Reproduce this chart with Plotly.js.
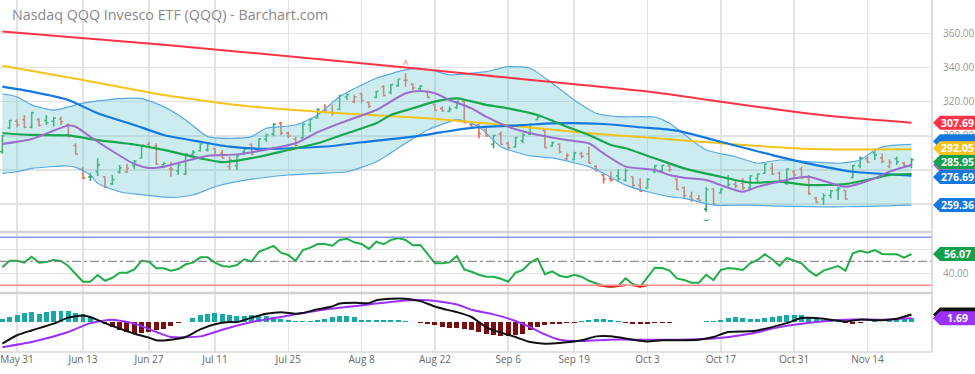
<!DOCTYPE html>
<html><head><meta charset="utf-8">
<script src="https://cdn.plot.ly/plotly-3.0.1.min.js"></script>
<style>html,body{margin:0;padding:0;background:#fff;}#chart{width:975px;height:374px;}</style>
</head><body><div id="chart"></div>
<script>
// ---------- categories (trading days) ----------
const firstDay = '2022-05-26', lastDay = '2022-11-22';
const holidays = ['2022-05-30','2022-06-20','2022-07-04','2022-09-05'];
const dates = [];
for (let d = new Date(firstDay + 'T00:00:00Z'); d <= new Date(lastDay + 'T00:00:00Z'); d.setUTCDate(d.getUTCDate() + 1)) {
  const wd = d.getUTCDay(), s = d.toISOString().slice(0, 10);
  if (wd !== 0 && wd !== 6 && holidays.indexOf(s) < 0) dates.push(s);
}
const tickDates = ['2022-05-31','2022-06-13','2022-06-27','2022-07-11','2022-07-25','2022-08-08','2022-08-22','2022-09-06','2022-09-19','2022-10-03','2022-10-17','2022-10-31','2022-11-14'];
const tickLabels = ['May 31','Jun 13','Jun 27','Jul 11','Jul 25','Aug 8','Aug 22','Sep 6','Sep 19','Oct 3','Oct 17','Oct 31','Nov 14'];
const priceTicks = [260, 280, 300, 320, 340, 360];
const priceTickText = ['', '', '300.00', '320.00', '340.00', '360.00'];   // 260 / 280 sit under the value badges
const rsiTicks = [40, 60];
const rsiTickText = ['40.00', ''];                                         // 60 sits under the RSI badge

// ---------- OHLC ----------
const openP = [290.7,304.6,308.5,309.5,305.0,309.5,309.0,308.5,309.8,306.5,
294.3,280.5,276.0,279.0,276.0,271.8,278.8,278.8,282.5,287.0,
295.0,294.0,283.0,280.5,279.5,277.5,289.0,291.2,291.8,292.5,
289.8,282.0,282.5,290.5,294.8,291.5,298.0,301.0,307.3,301.7,
298.0,298.8,306.5,310.5,314.6,313.8,315.6,322.7,320.0,324.6,
319.6,322.6,328.6,325.4,329.4,332.6,330.3,327.6,325.7,318.3,
315.9,314.3,316.5,320.2,306.5,306.5,303.7,295.0,301.0,295.5,
293.5,297.0,301.0,309.5,303.0,294.0,295.0,286.5,286.0,289.5,
289.5,282.0,277.0,275.0,276.5,274.0,276.0,271.0,269.5,279.0,
279.5,282.5,274.5,269.5,264.5,263.0,257.0,268.8,266.5,275.0,
271.5,272.0,269.5,275.0,278.0,281.0,278.0,272.0,279.0,280.5,
275.5,263.5,263.0,265.0,268.0,268.0,275.5,282.5,286.5,290.0,
287.0,282.0,286.5,284.0,282.5];
const highP = [300.5,309.3,309.7,312.2,314.1,310.3,312.2,311.2,311.2,307.3,
295.6,281.5,278.4,286.8,276.2,277.0,282.9,283.4,285.8,294.6,
296.5,295.6,284.5,284.8,283.9,289.7,291.5,295.6,296.1,292.7,
291.7,287.8,288.7,292.7,295.6,298.5,301.3,307.3,308.3,302.4,
299.5,307.3,310.3,316.1,318.5,318.3,324.0,324.6,324.0,325.3,
320.0,326.3,329.8,330.2,333.3,336.7,330.8,329.8,326.3,318.5,
317.1,317.1,320.4,321.0,308.3,307.3,304.4,300.6,302.4,296.5,
299.5,301.5,307.3,311.6,303.4,296.5,295.6,289.7,290.7,290.7,
293.6,282.9,278.0,279.0,280.4,281.0,276.0,275.1,275.1,282.9,
282.9,283.9,275.1,270.2,267.2,265.3,269.8,269.2,269.2,277.0,
274.1,275.1,277.0,278.0,283.9,284.0,279.0,280.9,279.9,281.9,
277.0,264.3,266.3,268.2,270.2,268.2,282.9,287.8,287.8,292.5,
289.7,286.3,287.8,284.8,286.8];
const lowP = [289.5,304.0,305.0,304.4,304.4,305.4,306.3,305.5,306.3,299.1,
288.7,274.5,273.5,276.5,269.3,271.1,277.8,278.2,280.5,286.8,
292.7,282.9,281.0,276.0,277.0,277.0,287.8,290.7,290.7,287.8,
286.8,280.0,280.0,288.7,288.7,290.7,296.5,299.8,300.5,298.5,
293.6,298.5,302.4,310.0,313.2,311.8,315.1,321.0,319.1,319.1,
316.1,322.0,323.0,324.4,328.8,328.8,326.9,326.9,322.0,314.5,
314.1,313.8,315.7,307.3,304.4,298.5,299.5,292.7,294.6,291.7,
293.2,295.6,300.5,309.0,292.7,293.6,289.7,285.8,285.8,286.8,
283.9,278.9,272.1,273.1,273.1,273.1,269.2,267.2,268.9,278.0,
278.9,278.9,268.2,263.3,261.3,261.9,255.5,259.4,266.0,269.2,
269.2,268.2,268.8,273.1,277.8,277.0,273.1,271.1,276.0,275.1,
265.3,260.4,259.4,263.3,262.3,262.3,275.1,281.0,283.9,285.8,
283.9,281.0,282.9,281.9,281.0];
const closeP = [300.0,309.0,306.5,305.0,313.6,306.0,307.6,310.3,308.2,299.6,
289.3,275.2,275.9,282.8,270.0,274.2,281.3,281.0,285.0,294.4,
293.3,283.5,283.9,280.3,282.9,289.3,290.4,295.2,295.4,288.6,
286.9,285.8,288.3,292.4,289.3,298.3,300.6,306.8,301.5,299.8,
294.3,306.9,309.9,315.4,315.0,313.3,323.6,324.2,322.8,320.7,
317.3,326.0,323.6,330.0,333.1,332.5,328.0,329.2,322.5,314.9,
314.5,315.6,320.2,307.6,304.8,301.3,299.9,300.2,295.0,293.0,
299.0,300.5,306.5,311.0,293.0,296.0,290.5,288.5,290.0,288.0,
284.0,280.0,274.5,274.2,274.8,279.5,271.0,267.5,274.5,282.5,
282.7,280.0,268.5,265.0,262.5,262.0,268.5,260.0,268.7,271.5,
270.5,269.5,276.5,277.5,283.5,277.5,274.0,280.5,277.0,275.5,
266.0,261.0,265.0,267.8,269.0,263.0,282.5,287.0,284.5,288.7,
285.0,284.5,284.8,282.5,285.95];

// ---------- moving averages / bands (read at sampled bars) ----------
const ma200Idx = [0,22,44,66,88,98,108,114,124];
const ma200 = [361.2,353.3,344.6,335.3,326.0,320.0,314.1,311.2,307.69];
const ma100Idx = [0,11,22,34,45,58,66,73,80,88,98,108,114,124];
const ma100 = [341.1,332.7,323.9,317.1,313.5,310.3,307.3,304.4,301.5,299.0,295.6,292.7,292.0,292.05];
const ma50Idx = [0,4,9,13,18,22,27,31,36,41,45,49,56,60,64,71,75,82,87,92,98,105,112,116,124];
const ma50 = [328.8,325.9,321.0,313.2,306.3,300.5,296.5,293.6,292.3,293.0,294.0,296.2,299.5,302.1,304.6,306.3,307.3,306.9,305.0,303.0,296.5,288.7,281.9,278.9,276.69];
const ma20Idx = [0,4,9,13,18,22,27,30,35,39,43,47,51,53,56,59,62,66,69,73,77,80,83,85,89,93,98,102,106,110,115,119,121,124];
const ma20 = [301.5,300.5,300.2,297.5,294.9,291.7,286.8,284.6,287.7,291.7,295.6,301.5,307.3,312.2,316.1,320.0,321.9,318.1,316.1,312.2,305.3,300.5,294.6,292.7,286.8,280.9,276.0,272.5,273.1,271.1,271.7,275.1,277.0,277.6];
const ma9Idx = [0,4,9,10,13,18,20,22,28,32,37,40,43,46,51,55,57,59,61,64,66,69,72,77,80,82,85,89,91,93,96,98,101,103,106,108,110,115,119,121,124];
const ma9 = [295.2,298.1,306.0,305.3,296.5,283.5,281.1,281.9,288.3,289.1,292.7,295.6,302.1,307.3,315.1,324.9,326.3,324.9,321.0,316.1,311.2,305.3,301.5,297.5,295.6,289.7,281.9,280.0,277.0,275.4,274.1,271.1,267.2,270.1,273.1,275.1,276.0,270.1,275.1,279.0,282.9];
const bbUpIdx = [0,2,4,7,11,15,19,22,25,28,31,34,36,40,43,46,51,55,57,59,61,64,66,69,72,75,78,81,84,89,91,94,96,100,103,106,110,114,117,119,121,124];
const bbUp = [324.5,322.9,318.1,315.1,319.1,321.4,321.8,317.1,309.3,299.5,298.5,299.5,304.4,306.3,312.2,322.9,333.7,338.6,339.6,338.0,335.7,336.7,337.6,340.5,339.6,330.8,321.0,313.2,311.2,310.9,307.3,297.5,291.7,287.7,283.9,285.8,284.8,283.9,285.8,291.7,294.2,295.0];
const bbLoIdx = [0,2,4,9,10,12,13,16,18,23,26,29,32,35,39,43,47,51,55,58,61,62,65,68,72,75,80,82,85,88,91,93,97,102,106,115,124];
const bbLo = [278.0,278.9,280.9,282.3,281.5,277.0,272.1,267.2,265.9,263.9,265.3,270.1,273.1,275.1,277.0,278.0,278.9,284.8,295.6,303.4,308.3,309.7,305.3,293.6,288.2,287.0,281.9,278.0,271.1,267.2,264.3,263.3,259.4,259.4,258.8,258.4,259.36];

// ---------- RSI ----------
const rsi = [45,50.5,50.5,48.9,53.8,48.9,49.4,51.1,50.3,46.1,
39.4,33,33,38.6,33.8,36.3,40.5,40.5,43.3,50.5,
49.7,44.2,44.2,42.2,43.6,47.5,48.9,53.3,53.3,48.9,
46.1,45.5,46.9,51.7,49.7,58,60.3,62.8,57.2,55.3,
50.5,59.4,61.4,64.4,64.4,63,67.8,68.8,65.8,64.4,
60.3,66.3,64.2,67.8,69.4,67.8,63.3,63.6,56.1,48.3,
48.3,49.2,54.4,43.3,41.3,38.8,37.2,37.2,35.5,33,
40.5,42.8,48.9,52.2,39.2,41.7,38,36.7,38.8,37.2,
33.8,31.7,29.4,28.9,29.4,35.8,31.1,28.9,37.2,44.7,
44.4,42.2,35.8,34.4,32.2,32.2,38.8,34.4,42.8,44.4,
43.8,42.8,48.3,51.1,55.8,51.7,46.3,52.8,50.5,48.3,
42.2,38,42.2,44.4,46.1,42.2,56.7,58.8,57.2,59.4,
56.1,55.8,55.8,53,56.07];

// ---------- MACD ----------
const macdIdx = [0,2,4,7,9,11,12,14,16,18,20,21,23,25,27,29,31,32,34,36,38,40,41,43,45,46,48,50,51,53,55,57,59,61,62,64,65,66,67,70,72,74,76,79,81,83,86,88,90,92,95,97,99,102,103,105,107,109,111,113,115,117,120,122,124];
const macdVals = [-9.8,-6.0,-3.8,-0.7,2.0,3.0,2.3,-0.5,-3.0,-5.3,-7.1,-8.3,-8.0,-6.8,-3.3,-1.0,0,0,2.0,3.8,4.5,3.8,4.1,5.8,7.1,8.4,8.8,8.6,9.9,10.6,10.6,9.5,7.1,5.3,4.5,2.3,0,-2.3,-3.8,-6.8,-9.1,-9.8,-9.5,-8.3,-6.5,-6.5,-8.0,-8.8,-8.3,-8.3,-8.0,-6.8,-4.5,-4.2,-3.8,-2.3,-0.5,1.8,1.8,1.1,0.3,1.1,0.8,1.5,3.4];
const signalIdx = [0,4,9,12,15,18,21,23,27,30,34,38,41,45,50,54,58,62,64,67,70,72,74,76,79,83,88,92,97,102,106,111,115,120,124];
const signalVals = [-11.4,-9.1,-4.5,-0.5,1.1,-0.7,-4.5,-6.8,-6.5,-3.5,0,2.3,4.1,6.1,8.0,9.5,9.9,8.0,5.6,3.5,0.5,-2.3,-5.6,-8.0,-8.6,-8.0,-8.0,-8.0,-7.5,-5.3,-2.3,0,1.1,1.1,1.69];
const histVals = [1.5,2.3,3.0,4.1,4.5,3.8,4.4,4.8,5.0,4.8,
4.1,3.5,2.3,0.2,-1.1,-2.3,-3.8,-4.5,-5.3,-5.0,
-4.5,-3.8,-3.0,-1.8,-0.5,0.1,1.8,3.0,3.8,4.1,
3.8,3.0,2.6,2.9,3.0,3.0,2.6,2.3,1.5,0.8,
0.3,0.5,0.5,1.1,1.5,2.3,2.9,2.9,2.3,1.1,
0.8,0.8,0.9,0.9,0.8,0.5,0.2,-0.3,-0.8,-1.5,
-2.3,-2.6,-2.9,-3.2,-3.5,-4.5,-5.6,-6.0,-6.4,-6.4,
-6.0,-5.6,-3.8,-2.3,-1.5,-1.1,-0.8,-0.5,-0.2,0.5,
0.8,1.4,1.2,0.8,0.3,-0.5,-0.8,-1.1,-0.8,-0.5,
-0.3,-0.2,0.2,0.2,0.2,0.2,0.3,0.5,1.1,2.0,
2.3,1.8,1.5,1.5,2.0,2.3,2.7,3.0,3.0,3.0,
2.3,1.5,1.1,0.8,0.5,-0.5,-0.8,-0.5,-0.1,0.3,
0.2,0.3,0.8,1.4,1.8];

// ---------- build ----------
const idx = dates.map((_, i) => i);
const UP = '#2ea85a', DOWN = '#ef6852';
function barSet(up) {
  const s = {x: [], open: [], high: [], low: [], close: []};
  idx.forEach(i => {
    const isUp = i === 0 ? true : closeP[i] >= closeP[i - 1];
    if (isUp === up) { s.x.push(i); s.open.push(openP[i]); s.high.push(highP[i]); s.low.push(lowP[i]); s.close.push(closeP[i]); }
  });
  return s;
}
function ohlcTrace(up) {
  const s = barSet(up), c = up ? UP : DOWN;
  return Object.assign({type: 'ohlc', xaxis: 'x', yaxis: 'y', tickwidth: 0.3, hoverinfo: 'skip',
    increasing: {line: {color: c, width: 1.6}}, decreasing: {line: {color: c, width: 1.6}}}, s);
}
function line(xs, ys, color, width, yaxis, extra) {
  return Object.assign({type: 'scatter', mode: 'lines', x: xs, y: ys, xaxis: 'x', yaxis: yaxis || 'y',
    line: {color: color, width: width, shape: 'spline', smoothing: 0.6}, hoverinfo: 'skip'}, extra || {});
}
function oversold(a, b) {
  return {type: 'scatter', mode: 'lines', x: idx.slice(a, b), y: rsi.slice(a, b).map(v => Math.min(v, 30)),
    xaxis: 'x', yaxis: 'y2', line: {color: '#ff2020', width: 2}, hoverinfo: 'skip'};
}

const traces = [
  line(bbUpIdx, bbUp, '#5aa9e6', 1.2),
  line(bbLoIdx, bbLo, '#5aa9e6', 1.2, 'y', {fill: 'tonexty', fillcolor: 'rgba(120,205,212,0.38)'}),
  line(ma200Idx, ma200, '#ff3347', 2),
  line(ma100Idx, ma100, '#f6c31c', 2),
  line(ma50Idx, ma50, '#1478df', 2.2),
  ohlcTrace(true), ohlcTrace(false),
  line(ma20Idx, ma20, '#1aa64e', 2.2),
  line(ma9Idx, ma9, '#9a6fcc', 2),
  // RSI
  {type: 'scatter', mode: 'lines', x: idx, y: rsi, xaxis: 'x', yaxis: 'y2', line: {color: '#1fae47', width: 2}, hoverinfo: 'skip'},
  oversold(81, 86), oversold(86, 89),
  // MACD
  {type: 'bar', x: idx, y: histVals, xaxis: 'x', yaxis: 'y3', width: 0.68,
   marker: {color: histVals.map(v => v >= 0 ? '#17a9a9' : '#7a0d0d'), line: {width: 0}}, hoverinfo: 'skip'},
  line(signalIdx, signalVals, '#9b30ff', 2, 'y3'),
  line(macdIdx, macdVals, '#111111', 2, 'y3')
];

const tickvals = tickDates.map(d => dates.indexOf(d));
const H = 374, PH = 352;
const dPrice = (PH - 232) / PH, dRsi = (PH - 293) / PH;
const grid = '#e3e3e3';

const shapes = [
  {type: 'line', xref: 'paper', yref: 'y2', x0: 0, x1: 1, y0: 70, y1: 70, line: {color: '#8797ee', width: 1.5}},
  {type: 'line', xref: 'paper', yref: 'y2', x0: 0, x1: 1, y0: 30, y1: 30, line: {color: '#ff8a8a', width: 1.5}},
  {type: 'line', xref: 'paper', yref: 'y2', x0: 0, x1: 1, y0: 50, y1: 50, line: {color: '#777', width: 1, dash: 'dashdot'}},
  {type: 'line', xref: 'paper', yref: 'paper', x0: 0, x1: 1, y0: dPrice, y1: dPrice, line: {color: '#d2d2d2', width: 2.5}},
  {type: 'line', xref: 'paper', yref: 'paper', x0: 0, x1: 1, y0: dRsi, y1: dRsi, line: {color: '#d2d2d2', width: 2.5}},
  {type: 'line', xref: 'paper', yref: 'paper', x0: 0, x1: 1, y0: 0, y1: 0, line: {color: '#d8d8d8', width: 1.5}},
  {type: 'line', xref: 'paper', yref: 'paper', x0: 1, x1: 1, y0: 0, y1: 1, line: {color: '#d2d2d2', width: 1.5}}
];
const annotations = [
  {xref: 'x', yref: 'y', x: 55, y: highP[55], yanchor: 'bottom', text: '^', showarrow: false, font: {size: 10, color: DOWN}},
  {xref: 'x', yref: 'y', x: 96, y: lowP[96], yanchor: 'top', text: '⌣', showarrow: false, font: {size: 10, color: UP, family: 'DejaVu Sans'}}
];
// value badge: arrow tag on the right axis; dy = pixel nudge (up positive) so neighbouring tags don't collide
function badge(yref, val, color, text, dy) {
  dy = dy || 0;
  const t = 7 + dy, b = -7 + dy;
  shapes.push({type: 'path', xref: 'paper', yref: yref, xsizemode: 'pixel', ysizemode: 'pixel', xanchor: 1, yanchor: val,
    path: 'M 1,' + dy + ' L 8,' + b + ' L 43,' + b + ' L 43,' + t + ' L 8,' + t + ' Z', fillcolor: color, line: {width: 0}, layer: 'above'});
  if (text) annotations.push({xref: 'paper', x: 1, xanchor: 'center', xshift: 25, yref: yref, y: val, yanchor: 'middle',
    yshift: dy, borderpad: 0, text: '<b>' + text + '</b>', showarrow: false, font: {size: 10.5, color: '#fff'}});
}
badge('y', 295.0, '#1479df', '', 3);
badge('y', 292.05, '#f6c31c', '292.05', 1.2);
badge('y', 282.9, '#9a6fcc', '');
badge('y', 276.69, '#1479df', '276.69', -1.5);
badge('y', 285.95, '#14a14a', '285.95', -2.3);
badge('y', 259.36, '#1479df', '259.36');
badge('y', 307.69, '#ff3347', '307.69');
badge('y2', 56.07, '#14a14a', '56.07');
badge('y3', 3.4, '#111111', '');
badge('y3', 1.69, '#9b30ff', '1.69');

const layout = {
  width: 975, height: H,
  margin: {l: 0, r: 43, t: 0, b: H - PH},
  paper_bgcolor: '#ffffff', plot_bgcolor: '#ffffff',
  font: {family: '"Open Sans", sans-serif', color: '#777'},
  showlegend: false, bargap: 0,
  title: {text: 'Nasdaq QQQ Invesco ETF (QQQ) - Barchart.com', xref: 'container', x: 12 / 975, xanchor: 'left',
          yref: 'container', y: 1 - 15 / H, yanchor: 'middle', font: {size: 14.3, color: '#8a8a8a'}},
  xaxis: {range: [-0.32, 126.8], tickmode: 'array', tickvals: tickvals, ticktext: tickLabels, anchor: 'y3',
          showgrid: true, gridcolor: grid, gridwidth: 1.5, zeroline: false, showline: false, ticks: '',
          tickfont: {size: 10, color: '#666'}, rangeslider: {visible: false}, fixedrange: true},
  yaxis: {domain: [dPrice, 1], range: [243.6, 379.6], side: 'right', tickmode: 'array', tickvals: priceTicks, ticktext: priceTickText,
          showgrid: true, gridcolor: grid, gridwidth: 1.5, zeroline: false, ticks: 'outside', ticklen: 8,
          tickcolor: 'rgba(0,0,0,0)', tickfont: {size: 10, color: '#999'}, fixedrange: true},
  yaxis2: {domain: [dRsi, dPrice], range: [23.6, 74.4], side: 'right', tickmode: 'array', tickvals: rsiTicks, ticktext: rsiTickText,
           showgrid: true, gridcolor: grid, gridwidth: 1.5, zeroline: false, ticks: 'outside', ticklen: 8,
           tickcolor: 'rgba(0,0,0,0)', tickfont: {size: 10, color: '#999'}, fixedrange: true},
  yaxis3: {domain: [0, dRsi], range: [-13.6, 13.2], side: 'right', showticklabels: false, showgrid: false, zeroline: false, fixedrange: true},
  shapes: shapes, annotations: annotations
};
Plotly.newPlot('chart', traces, layout, {staticPlot: true, displayModeBar: false});
</script></body></html>
